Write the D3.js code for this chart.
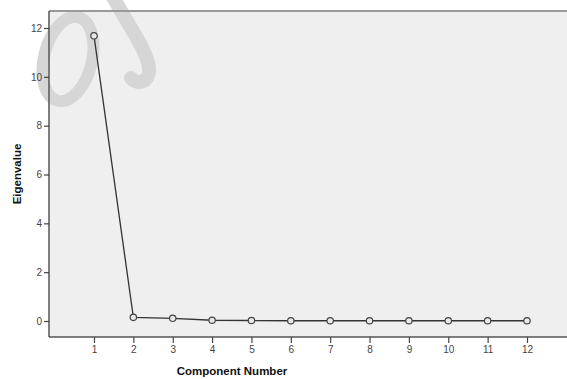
<!DOCTYPE html>
<html>
<head>
<meta charset="utf-8">
<script src="https://cdn.jsdelivr.net/npm/d3@7"></script>
<style>
  body { margin: 0; background: #fff; overflow: hidden; }
  svg { display: block; font-family: Arial, "Liberation Sans", sans-serif; }
</style>
</head>
<body>
<div id="chart"></div>
<script>
  var components = [1, 2, 3, 4, 5, 6, 7, 8, 9, 10, 11, 12];
  var eigenvalues = [11.68, 0.15, 0.11, 0.03, 0.02, 0.01, 0.01, 0.01, 0.01, 0.01, 0.01, 0.01];
  var yTicks = [0, 2, 4, 6, 8, 10, 12];

  var width = 567, height = 379;
  var pLeft = 49, pTop = 11, pRight = 570, pBottom = 337;

  var svg = d3.select('#chart').append('svg')
    .attr('width', width)
    .attr('height', height);

  // plot background
  svg.append('rect')
    .attr('x', pLeft).attr('y', pTop)
    .attr('width', pRight - pLeft).attr('height', pBottom - pTop)
    .attr('fill', '#efefef');

  // watermark
  var wm = svg.append('g').attr('fill', 'none').attr('stroke', '#d6d6d6').attr('stroke-linecap', 'round');
  wm.append('ellipse')
    .attr('cx', 68).attr('cy', 59).attr('rx', 24).attr('ry', 43)
    .attr('transform', 'rotate(14,68,59)')
    .attr('stroke-width', 12);
  wm.append('path')
    .attr('d', 'M112,-5 C128,25 147,50 149,68 C150,82 138,86 131,78')
    .attr('stroke-width', 14);

  var x = d3.scaleLinear().domain([1, 12]).range([94, 527]);
  var y = d3.scaleLinear().domain([0, 12]).range([321, 28]);

  // top frame line
  svg.append('line').attr('x1', pLeft).attr('x2', pRight).attr('y1', pTop).attr('y2', pTop)
    .attr('stroke', '#999').attr('stroke-width', 2);

  var yAxis = svg.append('g')
    .attr('transform', 'translate(' + pLeft + ',0)')
    .call(d3.axisLeft(y).tickValues(yTicks).tickSize(5).tickPadding(2).tickSizeOuter(0));
  yAxis.select('.domain').attr('d', 'M0,' + pTop + 'V' + pBottom);

  var xAxis = svg.append('g')
    .attr('transform', 'translate(0,' + pBottom + ')')
    .call(d3.axisBottom(x).tickValues(components).tickSize(6).tickPadding(3).tickSizeOuter(0));
  xAxis.select('.domain').attr('d', 'M' + pLeft + ',0H' + pRight);

  svg.selectAll('.domain').attr('stroke', '#555').attr('stroke-width', 1.5);
  svg.selectAll('.tick line').attr('stroke', '#444').attr('stroke-width', 1.2);
  svg.selectAll('.tick text').attr('fill', '#444').style('font-size', '10px')
    .style('font-family', 'Arial, "Liberation Sans", sans-serif');

  // line and points
  var line = d3.line()
    .x(function(d, i) { return x(components[i]); })
    .y(function(d) { return y(d); });

  svg.append('path')
    .datum(eigenvalues)
    .attr('d', line)
    .attr('fill', 'none')
    .attr('stroke', '#333')
    .attr('stroke-width', 1.3);

  svg.selectAll('circle.pt').data(eigenvalues).enter().append('circle')
    .attr('class', 'pt')
    .attr('cx', function(d, i) { return x(components[i]); })
    .attr('cy', function(d) { return y(d); })
    .attr('r', 3.2)
    .attr('fill', '#e8e8e8')
    .attr('stroke', '#444')
    .attr('stroke-width', 1.2);

  // axis titles
  svg.append('text')
    .attr('x', 232).attr('y', 375)
    .attr('text-anchor', 'middle')
    .style('font-size', '11.5px').style('font-weight', 'bold')
    .attr('fill', '#111')
    .text('Component Number');

  svg.append('text')
    .attr('transform', 'translate(21,174) rotate(-90)')
    .attr('text-anchor', 'middle')
    .style('font-size', '11.5px').style('font-weight', 'bold')
    .attr('fill', '#111')
    .text('Eigenvalue');
</script>
</body>
</html>
